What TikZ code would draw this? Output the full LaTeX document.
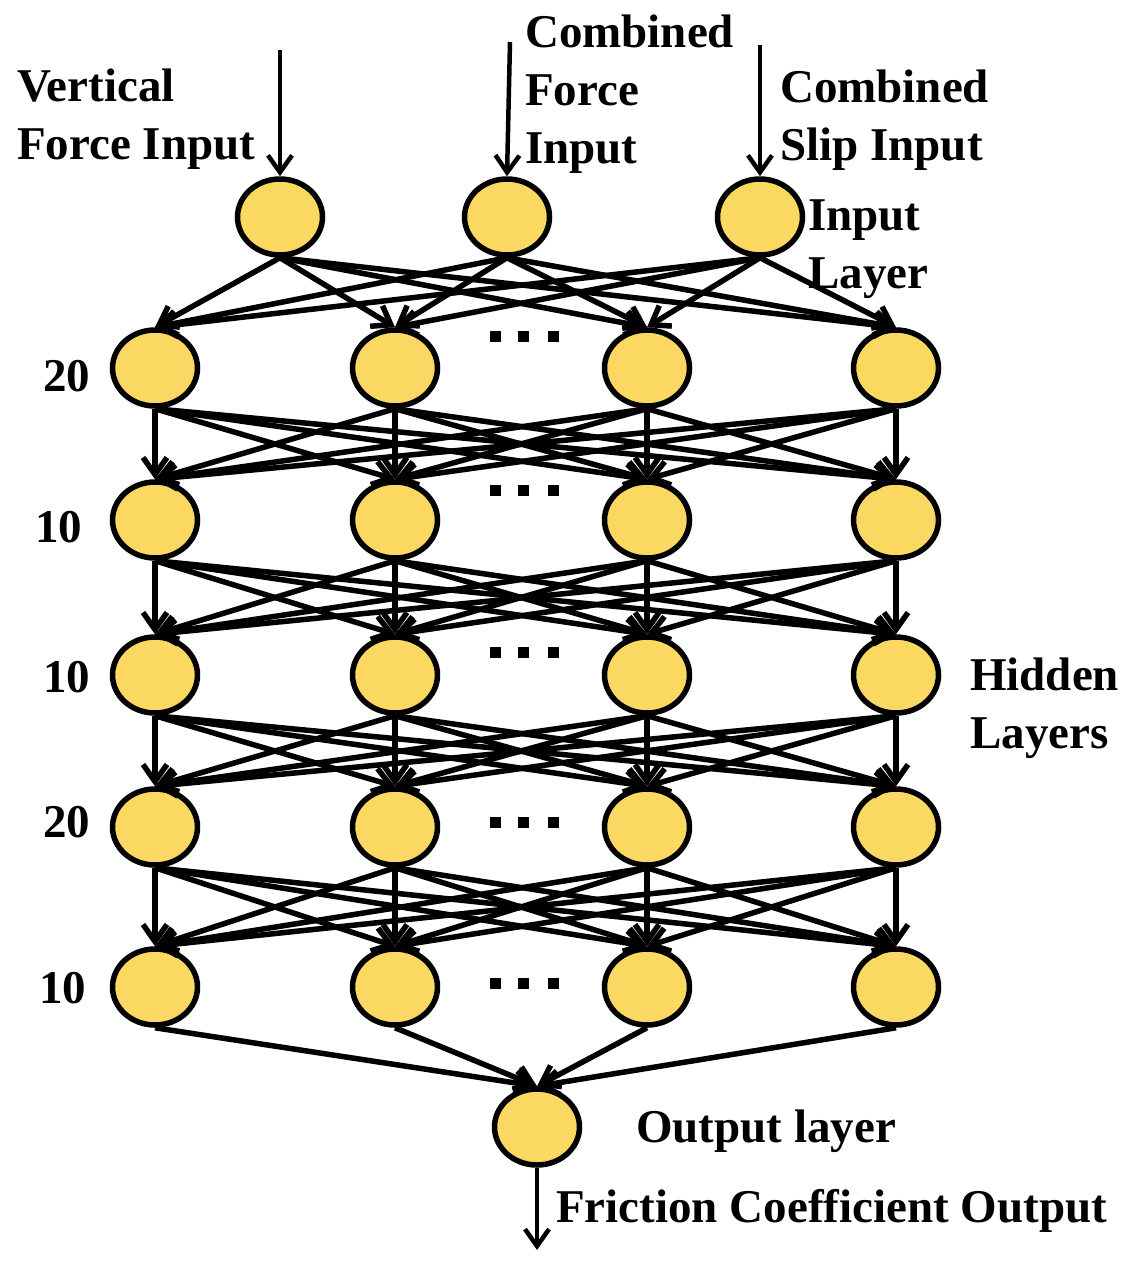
\documentclass[tikz,border=0pt]{standalone}
\usepackage{fontspec}
\setmainfont{Liberation Serif}
\usetikzlibrary{arrows.meta,shapes.geometric}
\definecolor{neuron}{RGB}{251,216,98}
\tikzset{
  neur/.style={ellipse,draw,line width=5.5pt,fill=neuron,minimum width=85pt,minimum height=76pt,inner sep=0pt},
  lbl/.style={font=\fontsize{47}{58}\selectfont\bfseries,align=left,anchor=base west,inner sep=0pt},
  wire/.style={line width=5.5pt,-{Straight Barb[length=17pt,width=24pt]}}
}
\begin{document}
\begin{tikzpicture}[x=1pt,y=-1pt]
                      \useasboundingbox(0,0)rectangle(1133,1264);
                      \foreach \x [count=\i] in {280,507,760} \node[neur](i\i)at(\x,217){};
                      \foreach \y [count=\l] in {368,520,675,827,987}
                        \foreach \x [count=\c] in {155,395,647,896} \node[neur](h\l\c)at(\x,\y){};
                      \node[neur](o)at(537,1127){};
                      \coordinate(t1)at(280,50);
                      \coordinate(t2)at(510,42);
                      \coordinate(t3)at(760,45);
                      \coordinate(fc)at(537,1250);
                      \foreach \i in {1,2,3} \draw[wire,line width=4.5pt](t\i)--(i\i.north);
                      \foreach \i in {1,2,3} \foreach \c in {1,...,4} \draw[wire](i\i.south)--(h1\c.north);
                      \foreach \l [evaluate=\l as \n using int(\l+1)] in {1,...,4}
                        \foreach \a in {1,...,4} \foreach \b in {1,...,4} \draw[wire](h\l\a.south)--(h\n\b.north);
                      \foreach \c in {1,...,4} \draw[wire](h5\c.south)--(o.north);
                      \draw[wire,line width=4.5pt](o.south)--(fc);
                      \foreach \y in {336,490,652,822,983} \foreach \x in {495,523,553} \fill(\x-5.5,\y-5.5)rectangle(\x+5.5,\y+5.5);
                      \node[lbl](vf)at(17,159){Vertical\\Force Input};
                      \node[lbl](cf)at(525,163){Combined\\Force\\Input};
                      \node[lbl](cs)at(780,160){Combined\\Slip Input};
                      \node[lbl](il)at(808,288){Input\\Layer};
                      \node[lbl](hl)at(970,748){Hidden\\Layers};
                      \node[lbl](ol)at(636,1142){Output layer};
                      \node[lbl](fo)at(556,1222){Friction Coefficient Output};
                      \foreach \t/\x/\y [count=\l] in {20/43/391,10/35/542,10/43/692,20/43/837,10/39/1003} \node[lbl](n\l)at(\x,\y){\t};
                  \end{tikzpicture}
\end{document}
